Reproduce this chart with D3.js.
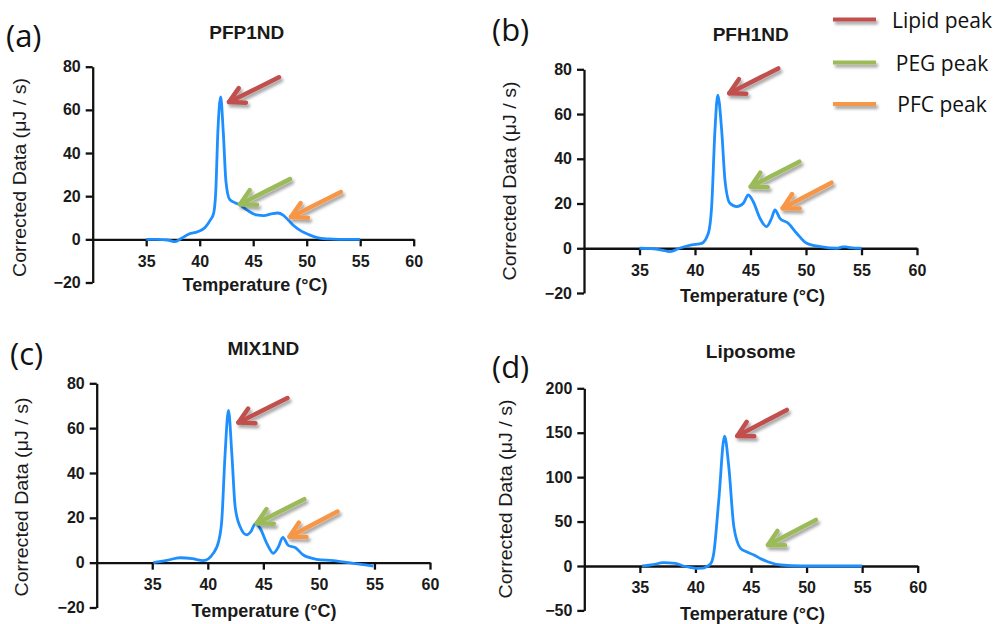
<!DOCTYPE html>
<html>
<head>
<meta charset="utf-8">
<script src="https://cdn.jsdelivr.net/npm/d3@7"></script>
<style>
  html, body { margin: 0; padding: 0; background: #fff; }
  svg { display: block; }
</style>
</head>
<body>
<svg id="chart" width="998" height="624"></svg>
<script>
// ---------- DATA ----------
const panelIds = ["a", "b", "c", "d"];
const panelTitles = ["PFP1ND", "PFH1ND", "MIX1ND", "Liposome"];
const xTicks = [35, 40, 45, 50, 55, 60];
const yTicksSmall = [-20, 0, 20, 40, 60, 80];
const yTicksLipo = [-50, 0, 50, 100, 150, 200];
const xTitle = "Temperature (°C)";
const yTitle = "Corrected Data (μJ / s)";
const legendLabels = ["Lipid peak", "PEG peak", "PFC peak"];

// Panel (a) PFP1ND
const tempA = [35, 36, 37, 37.7, 38.3, 39, 39.8, 40.5, 41, 41.3, 41.5, 41.7, 41.96, 42.2, 42.45, 42.8, 43.3, 43.8, 44.5, 45.3, 46, 46.7, 47.3, 47.8, 48.3, 48.8, 49.5, 50.2, 51, 52, 53, 54, 55];
const heatA = [0, 0, -0.3, -1.1, 0.5, 2.5, 3.5, 5.5, 9, 12, 22, 50, 66, 50, 27, 18.5, 17, 15.8, 13.3, 11.3, 11, 11.8, 12.2, 11.2, 8.8, 6.3, 3.8, 2.2, 0.8, 0.2, 0, 0, 0];
// Panel (b) PFH1ND
const tempB = [35, 36, 37, 37.75, 38.6, 39.7, 40.6, 41.2, 41.5, 41.8, 42.05, 42.4, 42.7, 43.15, 43.76, 44.35, 44.8, 45.25, 45.85, 46.45, 46.9, 47.2, 47.65, 48.4, 49.16, 50.06, 51.3, 52.8, 53.3, 53.6, 54, 55];
const heatB = [0, -0.2, -0.8, -1.5, 0, 1.5, 2.2, 6.7, 18.6, 52.9, 68.5, 52.9, 30.5, 20.1, 18.6, 20.1, 23.8, 20.8, 13.4, 9.7, 13.4, 17.1, 13.4, 11.2, 6.7, 2.2, 0.7, 0, 0.6, 0.6, 0.3, 0];
// Panel (c) MIX1ND
const tempC = [35.1, 36.3, 37.5, 38.6, 39.6, 40.5, 41.0, 41.26, 41.56, 41.86, 42.16, 42.46, 42.9, 43.5, 43.9, 44.26, 44.7, 45.3, 45.9, 46.36, 46.75, 47.26, 47.86, 48.6, 49.8, 51.3, 53.1, 54.9];
const heatC = [0, 1, 2.2, 1.8, 0.9, 4.2, 10, 19, 48.8, 67.9, 48.8, 25, 16.1, 12.4, 14, 17.3, 15.4, 8.7, 4.2, 7.1, 11.3, 7.6, 6.8, 3.4, 1.5, 0.9, -0.3, -1.5];
// Panel (d) Liposome
const tempD = [35.2, 36.2, 37.1, 38.2, 38.9, 39.5, 40.1, 40.6, 41.0, 41.4, 41.65, 42.1, 42.62, 43.0, 43.46, 44.06, 44.6, 45.27, 45.9, 46.5, 47.7, 49.5, 52, 55];
const heatD = [0, 1.5, 3.7, 3, 0, -1.5, -2.6, -2.5, -0.8, 3, 14.3, 74, 146, 112, 44, 19.9, 16, 12.4, 8, 4.8, 1.1, 0, 0, 0];

// Arrow annotations (data units: [temperature, value]); kind indexes legendLabels
const arrowsA = [{kind: 0, tip: [42.74, 63.6], tail: [47.41, 75.1]}, {kind: 1, tip: [43.77, 16.3], tail: [48.44, 27.9]}, {kind: 2, tip: [48.53, 10.3], tail: [53.2, 21.9]}];
const arrowsB = [{kind: 0, tip: [43.09, 69.3], tail: [47.5, 80.4]}, {kind: 1, tip: [45.02, 27.5], tail: [49.4, 38.7]}, {kind: 2, tip: [47.9, 17.9], tail: [52.3, 29.3]}];
const arrowsC = [{kind: 0, tip: [42.76, 62.5], tail: [47.17, 73.4]}, {kind: 1, tip: [44.41, 17.6], tail: [48.68, 28.3]}, {kind: 2, tip: [47.35, 11.6], tail: [51.68, 22.8]}];
const arrowsD = [{kind: 0, tip: [43.77, 146.4], tail: [48.22, 175.7]}, {kind: 1, tip: [46.53, 23.6], tail: [50.84, 51.8]}];

// ---------- STYLE / LAYOUT ----------
const arrowColors = ["#C0504D", "#9BBB59", "#F79646"];
const curveColor = "#1E8FFF";
const layout = [
  {xr: [92.7, 413.7], yr: [282.5, 66.7], yd: [-20, 80], yt: yTicksSmall, title: [246.7, 38.5], lab: [6, 47], xt: [255, 291], yl: [20, 177.5]},
  {xr: [584, 917], yr: [293, 69.3], yd: [-20, 80], yt: yTicksSmall, title: [750.7, 40.5], lab: [492, 41], xt: [752.5, 302], yl: [509.5, 181]},
  {xr: [96.7, 430], yr: [607.5, 383.3], yd: [-20, 80], yt: yTicksSmall, title: [263.3, 355], lab: [10, 365], xt: [264, 616.5], yl: [22, 497]},
  {xr: [584.3, 917.7], yr: [610.4, 388.3], yd: [-50, 200], yt: yTicksLipo, title: [750.7, 358], lab: [492, 378], xt: [752.5, 620], yl: [506, 499]}
];
const series = [[tempA, heatA], [tempB, heatB], [tempC, heatC], [tempD, heatD]];
const arrows = [arrowsA, arrowsB, arrowsC, arrowsD];

const svg = d3.select("#chart");
const defs = svg.append("defs");
const f = defs.append("filter").attr("id", "shadow").attr("filterUnits", "userSpaceOnUse")
  .attr("x", 0).attr("y", 0).attr("width", 998).attr("height", 624);
f.append("feDropShadow").attr("dx", 2).attr("dy", 3).attr("stdDeviation", 1.6).attr("flood-color", "#000").attr("flood-opacity", 0.35);

svg.append("rect").attr("width", 998).attr("height", 624).attr("fill", "#fff");

const sans = "'Liberation Sans', Arial, sans-serif";
const office = "'Open Sans', Lato, sans-serif";

panelIds.forEach((id, i) => {
  const L = layout[i];
  const x = d3.scaleLinear().domain([30, 60]).range(L.xr);
  const y = d3.scaleLinear().domain(L.yd).range(L.yr);
  const g = svg.append("g");

  // Y axis
  const ya = g.append("g").attr("transform", `translate(${x(30)},0)`)
    .call(d3.axisLeft(y).tickValues(L.yt).tickSize(7).tickSizeOuter(0).tickPadding(5).tickFormat(d3.format("d")));
  // X axis at zero
  const xa = g.append("g").attr("transform", `translate(0,${y(0)})`)
    .call(d3.axisBottom(x).tickValues(xTicks).tickSize(7).tickSizeOuter(0).tickPadding(9).tickFormat(d3.format("d")));
  [ya, xa].forEach(a => {
    a.select(".domain").attr("stroke", "#111").attr("stroke-width", 2.3);
    a.selectAll(".tick line").attr("stroke", "#111").attr("stroke-width", 2.3);
    a.selectAll(".tick text").attr("fill", "#1a1a1a").style("font-family", sans)
      .style("font-size", "16px").style("font-weight", "bold");
  });

  // Curve
  const [tt, vv] = series[i];
  const pts = tt.map((t, k) => [t, vv[k]]);
  g.append("path").datum(pts)
    .attr("fill", "none").attr("stroke", curveColor).attr("stroke-width", 2.8).attr("stroke-linejoin", "round")
    .attr("d", d3.line().x(d => x(d[0])).y(d => y(d[1])).curve(d3.curveMonotoneX));

  // Arrows
  arrows[i].forEach(a => {
    const tx = x(a.tip[0]), ty = y(a.tip[1]);
    const sx = x(a.tail[0]), sy = y(a.tail[1]);
    const ang = Math.atan2(sy - ty, sx - tx);
    const hl = 17, spread = 0.5;
    const h1 = [tx + hl * Math.cos(ang + spread), ty + hl * Math.sin(ang + spread)];
    const h2 = [tx + hl * Math.cos(ang - spread), ty + hl * Math.sin(ang - spread)];
    const ag = g.append("g").attr("filter", "url(#shadow)")
      .attr("stroke", arrowColors[a.kind]).attr("stroke-width", 4.5).attr("fill", "none")
      .attr("stroke-linecap", "round").attr("stroke-linejoin", "round");
    ag.append("path").attr("d", `M${sx},${sy}L${tx},${ty}`);
    ag.append("path").attr("d", `M${h1[0]},${h1[1]}L${tx},${ty}L${h2[0]},${h2[1]}`);
  });

  // Titles
  g.append("text").attr("x", L.title[0]).attr("y", L.title[1]).attr("text-anchor", "middle")
    .style("font-family", sans).style("font-size", "19px").style("font-weight", "bold")
    .attr("fill", "#1a1a1a").text(panelTitles[i]);
  g.append("text").attr("x", L.xt[0]).attr("y", L.xt[1]).attr("text-anchor", "middle")
    .style("font-family", sans).style("font-size", "18px").style("font-weight", "bold")
    .attr("fill", "#1a1a1a").text(xTitle);
  g.append("text").attr("transform", `translate(${L.yl[0]},${L.yl[1]}) rotate(-90)`)
    .attr("text-anchor", "middle").attr("dominant-baseline", "central")
    .attr("textLength", 199).attr("lengthAdjust", "spacingAndGlyphs")
    .style("font-family", sans).style("font-size", "18px")
    .attr("fill", "#1a1a1a").text(yTitle);
  g.append("text").attr("x", L.lab[0]).attr("y", L.lab[1])
    .style("font-family", office).style("font-size", "31px")
    .attr("fill", "#111").text(`(${id})`);
});

// Legend
const legendY = [19.5, 62.5, 104];
legendLabels.forEach((lab, k) => {
  svg.append("line").attr("x1", 833).attr("x2", 876).attr("y1", legendY[k]).attr("y2", legendY[k])
    .attr("stroke", arrowColors[k]).attr("stroke-width", 4).attr("filter", "url(#shadow)");
  svg.append("text").attr("x", 942).attr("y", legendY[k] + 8).attr("text-anchor", "middle")
    .style("font-family", office).style("font-size", "21px")
    .attr("fill", "#111").text(lab);
});
</script>
</body>
</html>
